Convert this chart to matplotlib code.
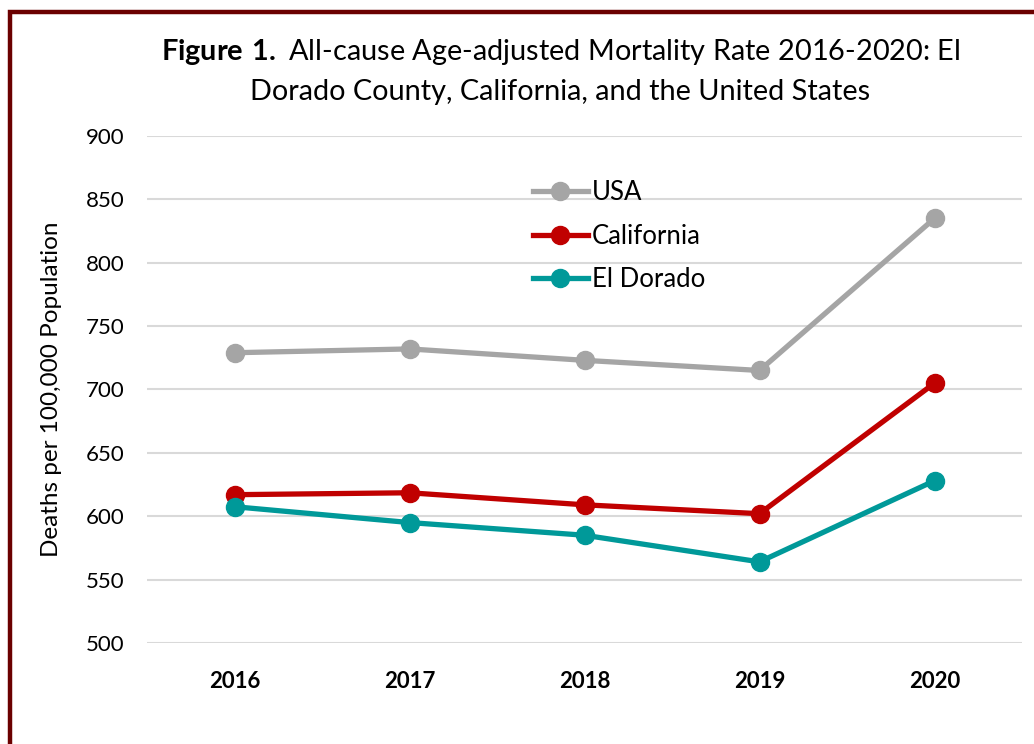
import matplotlib.pyplot as plt
from matplotlib.patches import Rectangle

anni = ["2016", "2017", "2018", "2019", "2020"]
usa = [729, 732, 723, 715, 835]
california = [617, 618.5, 609, 602, 705]
el_dorado = [607.5, 595, 585, 564, 628]

plt.rcParams["font.family"] = ["Lato", "DejaVu Sans"]
plt.rcParams["mathtext.fontset"] = "custom"
plt.rcParams["mathtext.rm"] = "Lato"
plt.rcParams["mathtext.bf"] = "Lato:bold"

fig = plt.figure(figsize=(10.34, 7.44), dpi=100)
ax = fig.add_axes([0.1422, 0.1358, 0.8462, 0.6814])

x = range(len(anni))
ax.plot(x, usa, color="#A5A5A5", lw=3.8, marker="o", ms=13, label="USA")
ax.plot(x, california, color="#C00000", lw=3.8, marker="o", ms=13, label="California")
ax.plot(x, el_dorado, color="#009999", lw=3.8, marker="o", ms=13, label="El Dorado")

ax.set_xlim(-0.5, 4.5)
ax.set_ylim(500, 900)
ax.set_yticks(range(500, 901, 50))
ax.set_xticks(list(x))
ax.set_xticklabels(anni, fontweight="bold")
ax.tick_params(axis="both", length=0, labelsize=16)
ax.tick_params(axis="y", pad=16)
ax.tick_params(axis="x", pad=20)
ax.grid(axis="y", color="#D9D9D9", lw=1.5)
ax.set_axisbelow(True)
for s in ax.spines.values():
    s.set_visible(False)
ax.set_ylabel("Deaths per 100,000 Population", fontsize=17.5, labelpad=17)

ax.legend(loc="upper left", bbox_to_anchor=(0.426, 0.938), frameon=False, borderpad=0,
          fontsize=18.5, handlelength=2.15, labelspacing=0.72, handletextpad=0.15)

fig.text(0.542, 0.93, r"$\bf{Figure\ 1.}$ All-cause Age-adjusted Mortality Rate 2016-2020: El",
         ha="center", va="center", fontsize=20.8)
fig.text(0.542, 0.877, "Dorado County, California, and the United States",
         ha="center", va="center", fontsize=20.8)

# cornice rossa scura
fig.patches.append(Rectangle((10 / 1034, -0.1), 1.2, 1 - 12 / 744 + 0.1,
                             transform=fig.transFigure, fill=False,
                             edgecolor="#6B0000", lw=3.2))

plt.savefig("out.png", dpi=100)
